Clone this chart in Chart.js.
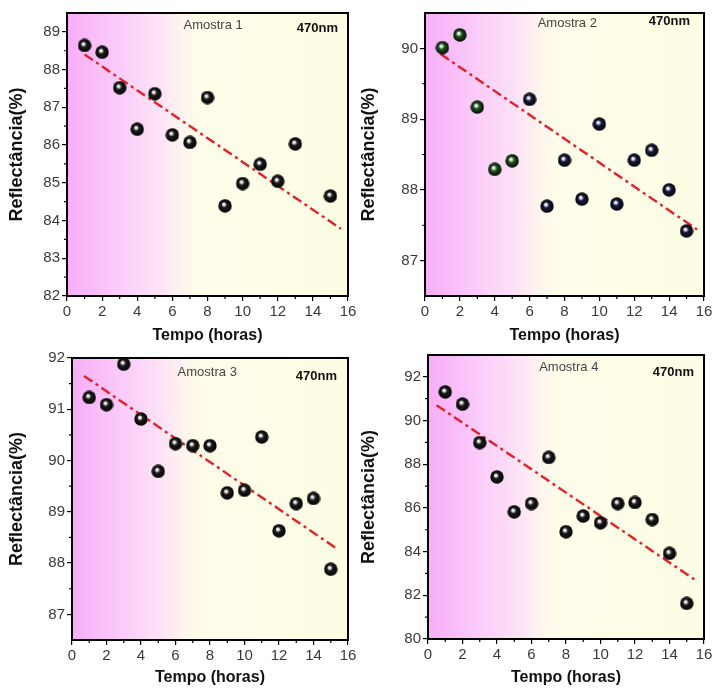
<!DOCTYPE html>
<html>
<head>
<meta charset="utf-8">
<script src="https://cdn.jsdelivr.net/npm/chart.js@4.4.1/dist/chart.umd.min.js"></script>
<style>
body { margin: 0; background: #fff; }
#wrap { position: relative; width: 712px; height: 690px; }
canvas { position: absolute; }
</style>
</head>
<body>
<div id="wrap">
  <canvas id="c1" width="356" height="345" style="left:0;top:0"></canvas>
  <canvas id="c2" width="356" height="345" style="left:356px;top:0"></canvas>
  <canvas id="c3" width="356" height="345" style="left:0;top:345px"></canvas>
  <canvas id="c4" width="356" height="345" style="left:356px;top:345px"></canvas>
</div>
<script>
// dados
var horas = [1, 2, 3, 4, 5, 6, 7, 8, 9, 10, 11, 12, 13, 14, 15];
var horas1 = [1, 2, 3, 4, 5, 6, 7, 8, 9, 10, 11, 12, 13, 15];

var amostra1 = [88.64, 88.46, 87.52, 86.42, 87.36, 86.27, 86.07, 87.26, 84.39, 84.98, 85.49, 85.04, 86.03, 84.65];
var amostra2 = [90.01, 90.19, 89.17, 88.29, 88.41, 89.28, 87.77, 88.42, 87.87, 88.93, 87.80, 88.42, 88.56, 88.00, 87.42];
var amostra3 = [91.23, 91.09, 91.88, 90.81, 89.79, 90.33, 90.29, 90.29, 89.37, 89.42, 90.46, 88.63, 89.16, 89.26, 87.88];
var amostra4 = [91.31, 90.75, 88.99, 87.42, 85.82, 86.20, 88.31, 84.91, 85.63, 85.32, 86.20, 86.25, 85.47, 83.92, 81.63];

// retas de ajuste (pontos inicial e final)
var ajuste1 = [[1.0, 88.40], [15.6, 83.78]];
var ajuste2 = [[0.9, 89.92], [15.6, 87.44]];
var ajuste3 = [[0.7, 91.65], [15.4, 88.27]];
var ajuste4 = [[0.5, 90.70], [15.5, 82.70]];

// ticks
var ticksX = [0, 2, 4, 6, 8, 10, 12, 14, 16];
var ticksY1 = [82, 83, 84, 85, 86, 87, 88, 89];
var ticksY2 = [87, 88, 89, 90];
var ticksY3 = [87, 88, 89, 90, 91, 92];
var ticksY4 = [80, 82, 84, 86, 88, 90, 92];

var fonte = "'Liberation Sans', Arial, sans-serif";

function esfera(base) {
  var c = document.createElement('canvas');
  c.width = 14; c.height = 14;
  var g = c.getContext('2d');
  var grad = g.createRadialGradient(5.6, 5.2, 0.3, 7, 7, 7);
  grad.addColorStop(0, '#ffffff');
  grad.addColorStop(0.16, '#d8d8d8');
  grad.addColorStop(0.38, base);
  grad.addColorStop(1, '#000000');
  g.fillStyle = grad;
  g.beginPath();
  g.arc(7, 7, 6.7, 0, Math.PI * 2);
  g.fill();
  return c;
}
var bolaPreta = esfera('#1c1c1c');
var bolaVerde = esfera('#1f5a1f');
var bolaAzul = esfera('#1a1a44');

function minores(maiores) {
  var m = [];
  for (var i = 0; i < maiores.length - 1; i++) m.push((maiores[i] + maiores[i + 1]) / 2);
  return m;
}

var desenho = {
  id: 'desenho',
  beforeDraw: function (chart) {
    var a = chart.chartArea, ctx = chart.ctx;
    var g = ctx.createLinearGradient(a.left, 0, a.right, 0);
    g.addColorStop(0, '#f7aef7');
    g.addColorStop(0.18, '#fbcbfa');
    g.addColorStop(0.34, '#fde5f5');
    g.addColorStop(0.41, '#fef5ee');
    g.addColorStop(0.47, '#fffdea');
    g.addColorStop(1, '#fdfde4');
    ctx.save();
    ctx.fillStyle = g;
    ctx.fillRect(a.left, a.top, a.right - a.left, a.bottom - a.top);
    ctx.restore();
  },
  beforeDatasetsDraw: function (chart) {
    var a = chart.chartArea, ctx = chart.ctx;
    ctx.save();
    ctx.strokeStyle = '#000';
    ctx.lineWidth = 2;
    ctx.strokeRect(a.left, a.top, a.right - a.left, a.bottom - a.top);
    // ticks menores
    ctx.lineWidth = 1.2;
    ctx.beginPath();
    minores(ticksX).forEach(function (v) {
      var px = chart.scales.x.getPixelForValue(v);
      ctx.moveTo(px, a.bottom);
      ctx.lineTo(px, a.bottom + 3);
    });
    minores(chart.options.plugins.desenho.ticksY).forEach(function (v) {
      var py = chart.scales.y.getPixelForValue(v);
      ctx.moveTo(a.left, py);
      ctx.lineTo(a.left - 3, py);
    });
    ctx.stroke();
    ctx.restore();
  },
  afterDraw: function (chart) {
    var o = chart.options.plugins.desenho, a = chart.chartArea, ctx = chart.ctx;
    ctx.save();
    ctx.textBaseline = 'middle';
    ctx.fillStyle = '#444';
    ctx.font = '13px ' + fonte;
    ctx.textAlign = 'center';
    ctx.fillText(o.nome, a.left + (a.right - a.left) * o.nx, a.top + o.ny);
    ctx.fillStyle = '#111';
    ctx.font = 'bold 13px ' + fonte;
    ctx.textAlign = 'right';
    ctx.fillText('470nm', a.right - o.lx, a.top + o.ly);
    ctx.restore();
  }
};

function painel(id, xs, ys, ajuste, yMin, yMax, ticksY, caixa, rotulo, cores) {
  var pontos = xs.map(function (x, i) { return { x: x, y: ys[i] }; });
  var reta = ajuste.map(function (p) { return { x: p[0], y: p[1] }; });
  return new Chart(document.getElementById(id), {
    type: 'scatter',
    data: {
      datasets: [{
        data: reta,
        showLine: true,
        borderColor: '#e61e28',
        borderWidth: 2.4,
        borderDash: [10, 4, 3, 4],
        pointRadius: 0,
        order: 2
      }, {
        data: pontos,
        pointStyle: cores || bolaPreta,
        pointRadius: 7,
        clip: false,
        order: 1
      }]
    },
    plugins: [desenho],
    options: {
      responsive: false,
      animation: false,
      events: [],
      layout: { padding: { top: caixa.top, right: caixa.right, left: 0, bottom: 0 } },
      plugins: {
        legend: { display: false },
        tooltip: { enabled: false },
        desenho: {
          ticksY: ticksY,
          nome: rotulo.nome, nx: rotulo.nx, ny: rotulo.ny, lx: rotulo.lx, ly: rotulo.ly
        }
      },
      scales: {
        x: {
          min: 0, max: 16,
          afterBuildTicks: function (s) { s.ticks = ticksX.map(function (v) { return { value: v }; }); },
          afterFit: function (s) { s.height = caixa.xh; s.paddingLeft = 0; s.paddingRight = 0; },
          grid: { drawOnChartArea: false, drawTicks: true, tickLength: 5, color: '#000', lineWidth: 1.2 },
          border: { display: true, color: '#000', width: 2 },
          ticks: { color: '#3a3a3a', padding: 2, maxRotation: 0, font: { family: fonte, size: 15 } },
          title: {
            display: true, text: 'Tempo (horas)', color: '#111',
            font: { family: fonte, size: 16, weight: 'bold' },
            padding: { top: 0, bottom: caixa.tb }
          }
        },
        y: {
          min: yMin, max: yMax,
          afterBuildTicks: function (s) { s.ticks = ticksY.map(function (v) { return { value: v }; }); },
          afterFit: function (s) { s.width = caixa.yw; s.paddingTop = 0; s.paddingBottom = 0; },
          grid: { drawOnChartArea: false, drawTicks: true, tickLength: 5, color: '#000', lineWidth: 1.2 },
          border: { display: true, color: '#000', width: 2 },
          ticks: { color: '#3a3a3a', padding: 2, font: { family: fonte, size: 15 } },
          title: {
            display: true, text: 'Reflectância(%)', color: '#111',
            font: { family: fonte, size: 18, weight: 'bold' },
            padding: { top: caixa.tl, bottom: 0 }
          }
        }
      }
    }
  });
}

painel('c1', horas1, amostra1, ajuste1, 82, 89.5, ticksY1,
  { top: 13, right: 4, xh: 49, yw: 67, tb: 0, tl: 6 },
  { nome: 'Amostra 1', nx: 0.52, ny: 12, lx: 10, ly: 15 });

painel('c2', horas, amostra2, ajuste2, 86.5, 90.5, ticksY2,
  { top: 13, right: 8, xh: 49, yw: 69, tb: 0, tl: 2 },
  { nome: 'Amostra 2', nx: 0.51, ny: 10, lx: 14, ly: 8 },
  function (c) { return c.dataIndex < 5 ? bolaVerde : bolaAzul; });

painel('c3', horas, amostra3, ajuste3, 86.5, 92, ticksY3,
  { top: 13, right: 5, xh: 50, yw: 72, tb: 3, tl: 6 },
  { nome: 'Amostra 3', nx: 0.49, ny: 14, lx: 11, ly: 18 });

painel('c4', horas, amostra4, ajuste4, 80, 93, ticksY4,
  { top: 10, right: 8, xh: 51, yw: 72, tb: 3, tl: 2 },
  { nome: 'Amostra 4', nx: 0.51, ny: 12, lx: 10, ly: 17 });
</script>
</body>
</html>
